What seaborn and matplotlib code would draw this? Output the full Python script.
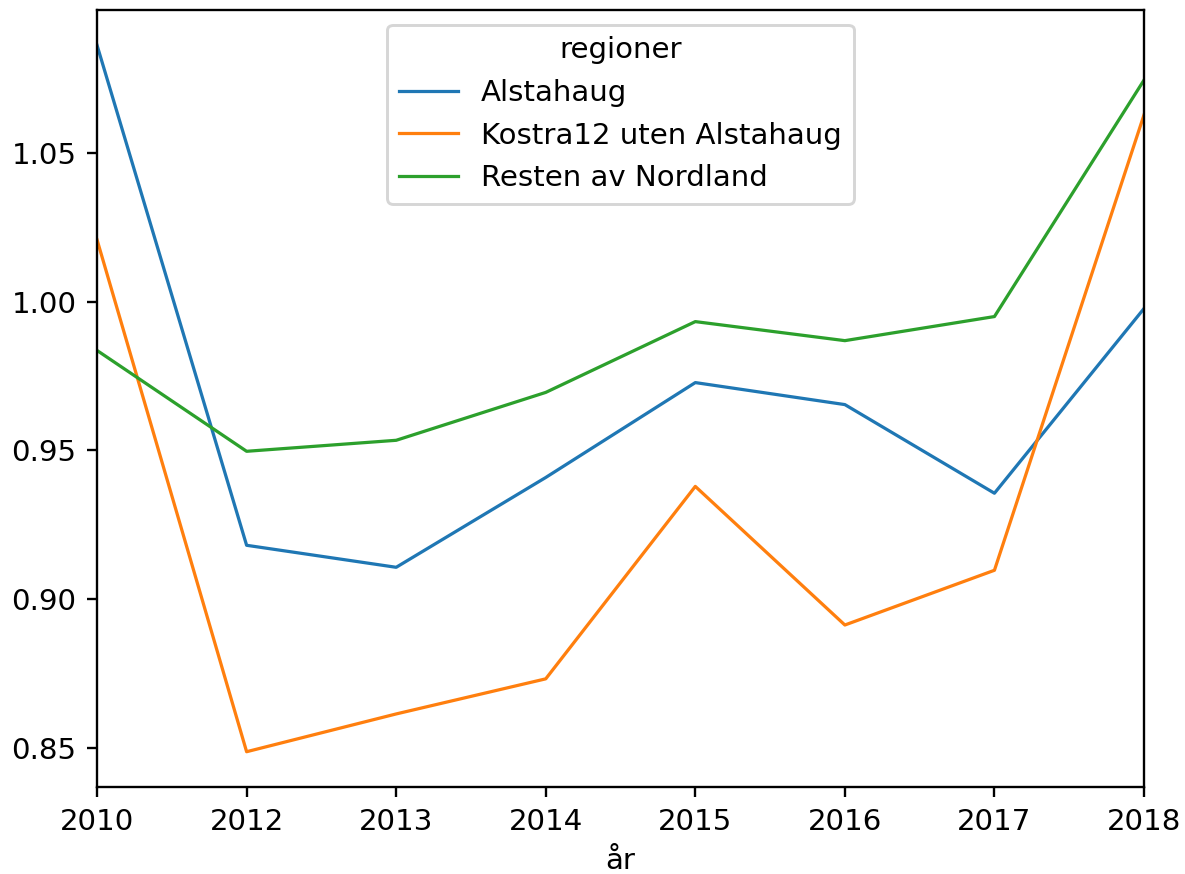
import matplotlib
matplotlib.use("Agg")
import matplotlib.pyplot as plt
import seaborn as sns
import pandas as pd

# data
years = ["2010", "2012", "2013", "2014", "2015", "2016", "2017", "2018"]
alstahaug = [1.0862, 0.9181, 0.9107, 0.9409, 0.9728, 0.9654, 0.9356, 0.9977]
kostra12 = [1.0208, 0.8487, 0.8614, 0.8732, 0.9379, 0.8913, 0.9097, 1.0628]
resten = [0.9836, 0.9497, 0.9534, 0.9695, 0.9933, 0.9869, 0.9950, 1.0745]
regions = ["Alstahaug", "Kostra12 uten Alstahaug", "Resten av Nordland"]

df = pd.DataFrame({
    "år": years * 3,
    "verdi": alstahaug + kostra12 + resten,
    "regioner": [r for r in regions for _ in years],
})

DPI = 211
fig, ax = plt.subplots(figsize=(1185 / DPI, 874 / DPI), dpi=DPI)
fig.subplots_adjust(left=0.0819, right=0.9654, top=0.9886, bottom=0.0995)

sns.lineplot(data=df, x="år", y="verdi", hue="regioner", palette="tab10",
             linewidth=1.1, ax=ax)

ax.set_xlim(0, len(years) - 1)
ax.set_ylabel("")
ax.set_xlabel("år")
ax.legend(title="regioner", loc="upper center")

plt.savefig("out.png", dpi=DPI)
plt.close()
